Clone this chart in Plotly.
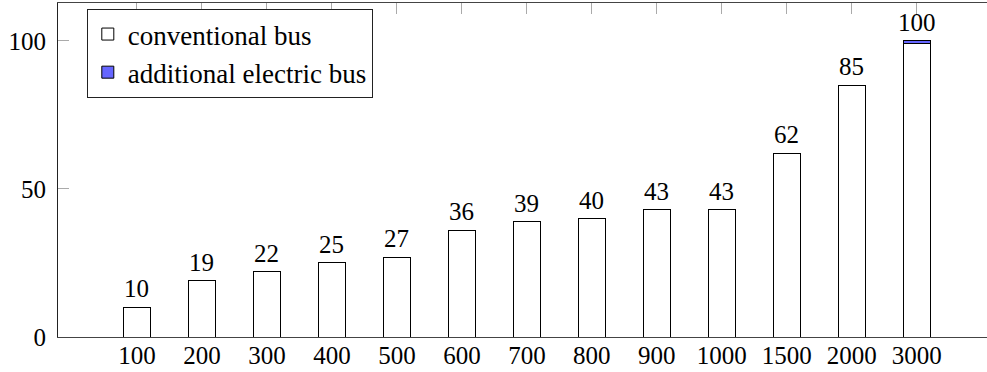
import plotly.graph_objects as go

categories = ["100", "200", "300", "400", "500", "600", "700", "800", "900", "1000", "1500", "2000", "3000"]
conventional = [10, 19, 22, 25, 27, 36, 39, 40, 43, 43, 62, 85, 99]
electric = [0, 0, 0, 0, 0, 0, 0, 0, 0, 0, 0, 0, 1]
totals = [c + e for c, e in zip(conventional, electric)]
labels = [str(round(t)) for t in totals]

FONT = "Liberation Serif"
FS = 25

fig = go.Figure()
fig.add_trace(go.Bar(
    x=categories, y=conventional, name="conventional bus",
    marker=dict(color="white", line=dict(color="black", width=1)),
    width=0.42,
))
fig.add_trace(go.Bar(
    x=categories, y=electric, name="additional electric bus",
    marker=dict(color="#6666ff", line=dict(color="black", width=1)),
    width=0.42,
))

# category axis: annotations use the serial index of each category
for idx, (tot, lab) in enumerate(zip(totals, labels)):
    fig.add_annotation(
        x=idx, y=tot, xref="x", yref="y", text=lab, showarrow=False,
        xanchor="center", yanchor="bottom", yshift=3,
        font=dict(family=FONT, size=FS, color="black"),
    )

fig.update_layout(
    width=987, height=372,
    margin=dict(l=58, r=0, t=3, b=35),
    barmode="stack",
    plot_bgcolor="white", paper_bgcolor="white",
    font=dict(family=FONT, size=FS, color="black"),
    legend=dict(
        x=0.031, y=0.982, xanchor="left", yanchor="top",
        bordercolor="#222", borderwidth=1, bgcolor="white",
        traceorder="normal", font=dict(family=FONT, size=27),
        tracegroupgap=0,
    ),
    xaxis=dict(
        type="category", categoryarray=categories, categoryorder="array",
        range=[-1.215, 13.08],
        showline=True, linecolor="#444", linewidth=1,
        mirror="ticks", ticks="inside", ticklen=11, tickcolor="#aaa",
        showgrid=False, zeroline=False, layer="below traces",
        tickfont=dict(family=FONT, size=FS), ticklabelstandoff=-4,
    ),
    yaxis=dict(
        range=[0, 112.8], tickvals=[0, 50, 100],
        showline=True, linecolor="#222", linewidth=1,
        ticks="inside", ticklen=11, tickcolor="#aaa",
        showgrid=False, zeroline=False, layer="below traces",
        tickfont=dict(family=FONT, size=FS), ticklabelstandoff=6,
    ),
)

fig.write_html(
    "out.html",
    config={"displayModeBar": False},
    post_script="document.body.style.margin='0';document.body.style.overflow='hidden';",
)
